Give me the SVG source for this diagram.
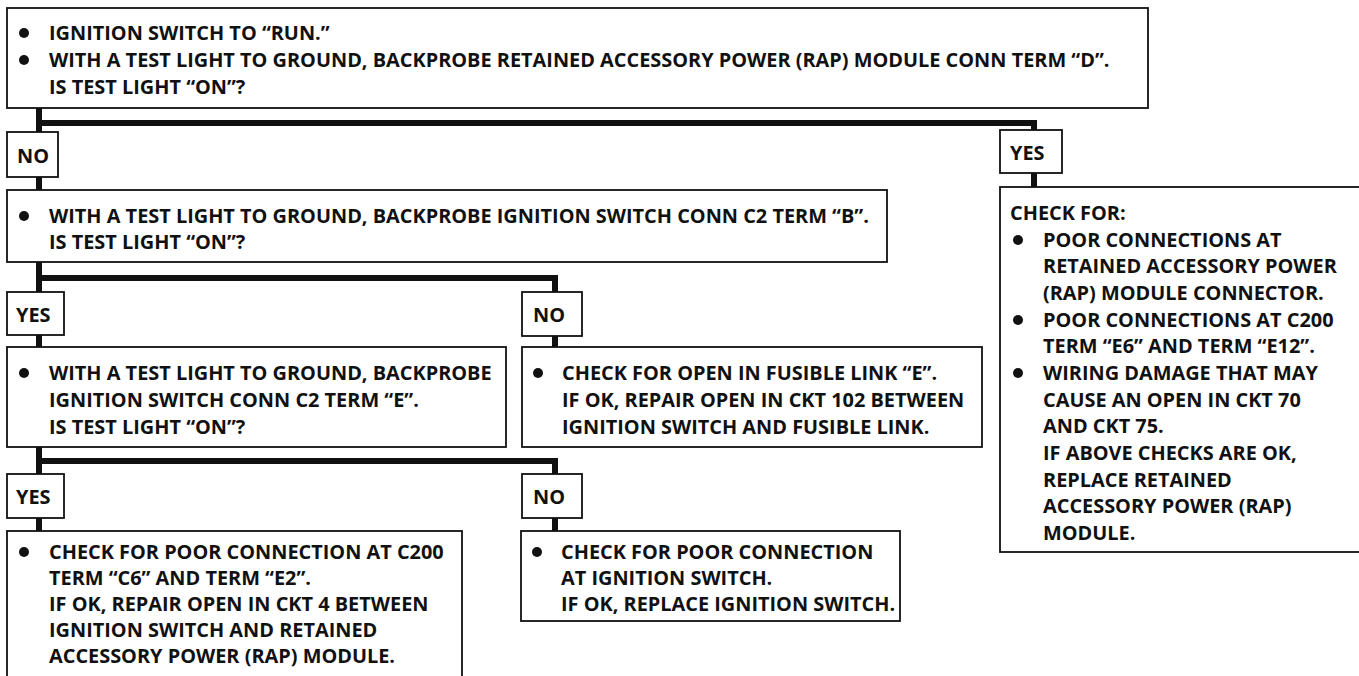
<svg xmlns="http://www.w3.org/2000/svg" xmlns:xlink="http://www.w3.org/1999/xlink" width="1359" height="676" viewBox="0 0 1359 676">
<style>
.box{fill:#fff;stroke:#111;stroke-width:1.8}
.t{font-family:"Open Sans","Liberation Sans",sans-serif;font-weight:700;font-size:19.9px;fill:#111}
.conn{stroke:#111;stroke-width:6;fill:none;stroke-linejoin:miter;stroke-linecap:butt}
</style>
<defs><circle id="b" r="5" fill="#111"/></defs>
<rect width="1359" height="676" fill="#fff"/>
<g id="connectors">
<path class="conn" d="M39,108 V132 M39,177 V190"/>
<path class="conn" d="M39,123 H1034 V130 M1034,173 V187"/>
<path class="conn" d="M39,262 V292 M39,335 V347"/>
<path class="conn" d="M39,278 H555 V292 M555,336 V347"/>
<path class="conn" d="M39,447 V474 M39,518 V531"/>
<path class="conn" d="M39,461 H555 V474 M555,518 V531"/>
</g>
<g id="n1">
<rect class="box" x="7" y="8" width="1141" height="100"/>
<use xlink:href="#b" x="24" y="33"/><text class="t" x="49" y="40">IGNITION SWITCH TO “RUN.”</text>
<use xlink:href="#b" x="24" y="60"/><text class="t" x="49" y="67">WITH A TEST LIGHT TO GROUND, BACKPROBE RETAINED ACCESSORY POWER (RAP) MODULE CONN TERM “D”.</text>
<text class="t" x="49" y="94">IS TEST LIGHT “ON”?</text>
</g>
<g id="l1no"><rect class="box" x="7" y="132" width="51" height="45"/><text class="t" x="17" y="163">NO</text></g>
<g id="l1yes"><rect class="box" x="1000" y="130" width="62" height="43"/><text class="t" x="1010" y="160">YES</text></g>
<g id="n2">
<rect class="box" x="7" y="190" width="880" height="72"/>
<use xlink:href="#b" x="24" y="216"/><text class="t" x="49" y="223">WITH A TEST LIGHT TO GROUND, BACKPROBE IGNITION SWITCH CONN C2 TERM “B”.</text>
<text class="t" x="49" y="249">IS TEST LIGHT “ON”?</text>
</g>
<g id="n_right">
<rect class="box" x="1000" y="187" width="365" height="365"/>
<text class="t" x="1010" y="220">CHECK FOR:</text>
<use xlink:href="#b" x="1018" y="240"/><text class="t" x="1043" y="247">POOR CONNECTIONS AT</text>
<text class="t" x="1043" y="273">RETAINED ACCESSORY POWER</text>
<text class="t" x="1043" y="300">(RAP) MODULE CONNECTOR.</text>
<use xlink:href="#b" x="1018" y="320"/><text class="t" x="1043" y="327">POOR CONNECTIONS AT C200</text>
<text class="t" x="1043" y="353">TERM “E6” AND TERM “E12”.</text>
<use xlink:href="#b" x="1018" y="373"/><text class="t" x="1043" y="380">WIRING DAMAGE THAT MAY</text>
<text class="t" x="1043" y="407">CAUSE AN OPEN IN CKT 70</text>
<text class="t" x="1043" y="433">AND CKT 75.</text>
<text class="t" x="1043" y="460">IF ABOVE CHECKS ARE OK,</text>
<text class="t" x="1043" y="487">REPLACE RETAINED</text>
<text class="t" x="1043" y="513">ACCESSORY POWER (RAP)</text>
<text class="t" x="1043" y="540">MODULE.</text>
</g>
<g id="l2yes"><rect class="box" x="7" y="292" width="57" height="43"/><text class="t" x="16" y="322">YES</text></g>
<g id="l2no"><rect class="box" x="522" y="292" width="60" height="44"/><text class="t" x="533" y="322">NO</text></g>
<g id="n3">
<rect class="box" x="7" y="347" width="499" height="100"/>
<use xlink:href="#b" x="24" y="373"/><text class="t" x="49" y="380">WITH A TEST LIGHT TO GROUND, BACKPROBE</text>
<text class="t" x="49" y="407">IGNITION SWITCH CONN C2 TERM “E”.</text>
<text class="t" x="49" y="434">IS TEST LIGHT “ON”?</text>
</g>
<g id="n4">
<rect class="box" x="522" y="347" width="460" height="100"/>
<use xlink:href="#b" x="538" y="373"/><text class="t" x="562" y="380">CHECK FOR OPEN IN FUSIBLE LINK “E”.</text>
<text class="t" x="562" y="407">IF OK, REPAIR OPEN IN CKT 102 BETWEEN</text>
<text class="t" x="562" y="434">IGNITION SWITCH AND FUSIBLE LINK.</text>
</g>
<g id="l3yes"><rect class="box" x="7" y="474" width="57" height="44"/><text class="t" x="16" y="504">YES</text></g>
<g id="l3no"><rect class="box" x="522" y="474" width="60" height="44"/><text class="t" x="533" y="504">NO</text></g>
<g id="n5">
<rect class="box" x="7" y="531" width="455" height="160"/>
<use xlink:href="#b" x="24" y="552"/><text class="t" x="49" y="559">CHECK FOR POOR CONNECTION AT C200</text>
<text class="t" x="49" y="585">TERM “C6” AND TERM “E2”.</text>
<text class="t" x="49" y="611">IF OK, REPAIR OPEN IN CKT 4 BETWEEN</text>
<text class="t" x="49" y="637">IGNITION SWITCH AND RETAINED</text>
<text class="t" x="49" y="663">ACCESSORY POWER (RAP) MODULE.</text>
</g>
<g id="n6">
<rect class="box" x="521" y="531" width="379" height="90"/>
<use xlink:href="#b" x="537" y="552"/><text class="t" x="561" y="559">CHECK FOR POOR CONNECTION</text>
<text class="t" x="561" y="585">AT IGNITION SWITCH.</text>
<text class="t" x="561" y="611">IF OK, REPLACE IGNITION SWITCH.</text>
</g>
</svg>
